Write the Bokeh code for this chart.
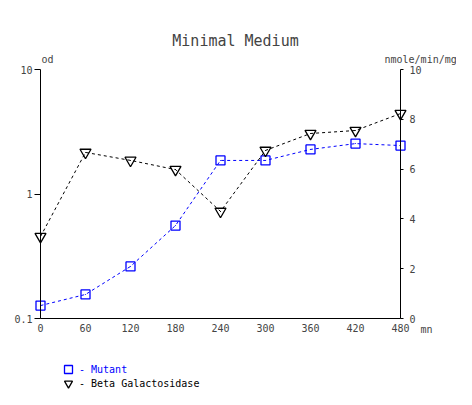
import math
from bokeh.plotting import figure
from bokeh.models import (Range1d, LinearAxis, LinearScale, FixedTicker, Label,
                          Legend, LegendItem, CustomJSTickFormatter)
from bokeh.embed import file_html
from bokeh.resources import INLINE

# ---- data ----
time_mn = [0, 60, 120, 180, 240, 300, 360, 420, 480]
mutant_od = [0.127, 0.156, 0.262, 0.558, 1.86, 1.86, 2.28, 2.54, 2.45]
beta_gal = [3.29, 6.67, 6.35, 5.98, 4.30, 6.75, 7.43, 7.55, 8.23]
x_ticks = [0, 60, 120, 180, 240, 300, 360, 420, 480]
left_ticks = [0.1, 1, 10]
right_ticks = [0, 2, 4, 6, 8, 10]

FONT = "DejaVu Sans Mono"

# ---- layout (pixels inside the figure) ----
W, H = 456, 389
PL, PR, PT, PB = 40, 400, 69, 318  # data box edges in figure pixels
X0, X1 = 0, 480
YL0, YL1 = 0.1, 10
YR0, YR1 = 0, 10

xs = (X1 - X0) / (PR - PL)
x_range = Range1d(X0 - PL * xs, X1 + (W - PR) * xs)
ls = (math.log10(YL1) - math.log10(YL0)) / (PB - PT)
y_range = Range1d(10 ** (math.log10(YL0) - (H - PB) * ls),
                  10 ** (math.log10(YL1) + PT * ls))
rs = (YR1 - YR0) / (PB - PT)
r_range = Range1d(YR0 - (H - PB) * rs, YR1 + PT * rs)

p = figure(width=W, height=H, x_range=x_range, y_range=y_range,
           y_axis_type="log", output_backend="svg", toolbar_location=None,
           min_border=0)
p.extra_y_ranges = {"right": r_range}
p.extra_y_scales = {"right": LinearScale()}
p.grid.visible = False
p.outline_line_color = None

# bottom axis
xa = p.xaxis[0]
xa.fixed_location = YL0
xa.bounds = (X0, X1)
xa.ticker = FixedTicker(ticks=x_ticks)
xa.major_tick_out = 0
xa.major_tick_in = 0
xa.minor_tick_out = 0
xa.minor_tick_in = 0
xa.major_label_standoff = 5
xa.major_label_text_font = FONT
xa.major_label_text_font_size = "10px"

# left axis (log)
ya = p.yaxis[0]
ya.fixed_location = X0
ya.bounds = (YL0, YL1)
ya.ticker = FixedTicker(ticks=left_ticks)
ya.formatter = CustomJSTickFormatter(code="return tick.toString();")
ya.major_tick_out = 6
ya.major_tick_in = 0
ya.minor_tick_out = 0
ya.minor_tick_in = 0
ya.major_label_standoff = 2
ya.major_label_text_font = FONT
ya.major_label_text_font_size = "10px"

# right axis (linear)
ra = LinearAxis(y_range_name="right", ticker=FixedTicker(ticks=right_ticks),
                fixed_location=X1, bounds=(YR0, YR1))
ra.major_tick_out = 3
ra.major_tick_in = 0
ra.minor_tick_out = 0
ra.minor_tick_in = 0
ra.major_label_standoff = 6
ra.major_label_text_font = FONT
ra.major_label_text_font_size = "10px"
p.add_layout(ra, "right")

# ---- series ----
p.line(time_mn, mutant_od, line_color="blue", line_dash="3 3", line_width=1)
sq = p.scatter(time_mn, mutant_od, marker="square", size=9, line_color="blue",
               fill_color=None, line_width=1.3)
p.scatter(time_mn, mutant_od, marker="dot", size=4, line_color="blue")

p.line(time_mn, beta_gal, line_color="black", line_dash="3 3", line_width=1,
       y_range_name="right")
tri = p.scatter(time_mn, beta_gal, marker="inverted_triangle", size=11,
                line_color="black", fill_color=None, line_width=1.3,
                y_range_name="right")
p.scatter(time_mn, beta_gal, marker="dot", size=4, line_color="black",
          y_range_name="right")

# ---- texts ----
p.add_layout(Label(x=260, y=YL1, y_offset=20, text="Minimal Medium",
                   text_font=FONT, text_font_size="15px", text_align="center",
                   text_baseline="bottom"))
p.add_layout(Label(x=X0, y=YL1, x_offset=1, y_offset=5, text="od",
                   text_font=FONT, text_font_size="10px", text_baseline="bottom"))
p.add_layout(Label(x=X1, y=YR1, x_offset=-16, y_offset=5, text="nmole/min/mg",
                   text_font=FONT, text_font_size="10px", text_baseline="bottom",
                   y_range_name="right"))
p.add_layout(Label(x=X1, y=YL0, x_offset=20, y_offset=-5, text="mn",
                   text_font=FONT, text_font_size="10px", text_baseline="top"))

# ---- legend ----
for item, rend, color, loc in [("- Mutant", sq, "blue", (57, 10)),
                               ("- Beta Galactosidase", tri, "black", (57, -4))]:
    leg = Legend(items=[LegendItem(label=item, renderers=[rend])], location=loc,
                 glyph_width=22, glyph_height=20, label_standoff=-5, padding=0,
                 margin=0, spacing=0, border_line_color=None,
                 background_fill_alpha=0, label_text_font=FONT,
                 label_text_font_size="10px", label_text_color=color)
    p.add_layout(leg)

open("out.html", "w").write(file_html(p, INLINE))
